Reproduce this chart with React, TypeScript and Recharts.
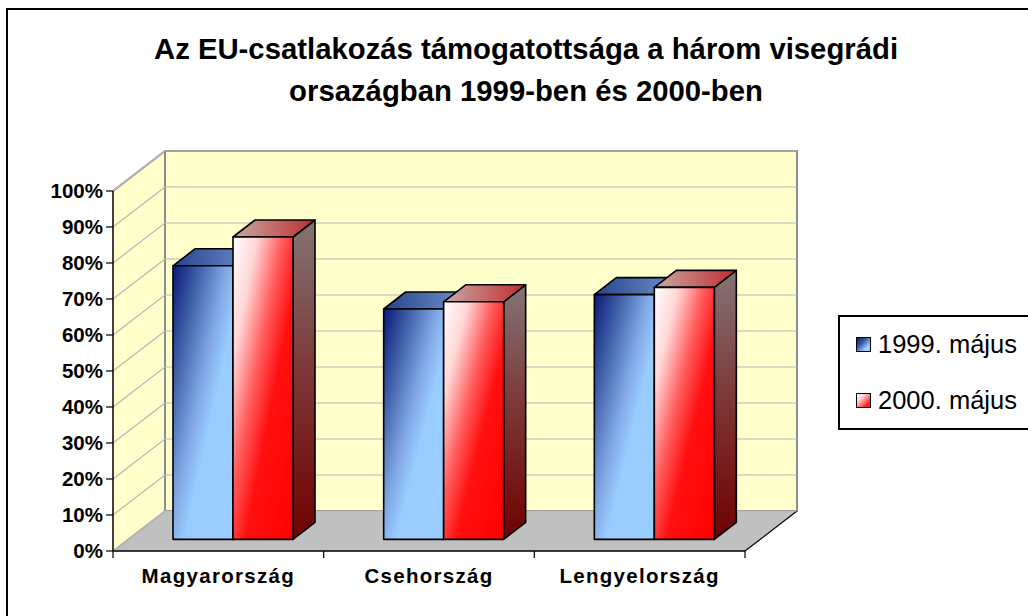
import React from 'react';
import { BarChart, Bar, XAxis, YAxis, CartesianGrid } from 'recharts';

const titleLines = ['Az EU-csatlakozás támogatottsága a három visegrádi', 'orsazágban 1999-ben és 2000-ben'];
const countries = ['Magyarország', 'Csehország', 'Lengyelország'];
const may1999 = [76, 64, 68];
const may2000 = [84, 66, 70];
const yTicks = [0, 10, 20, 30, 40, 50, 60, 70, 80, 90, 100];
const seriesNames = ['1999. május', '2000. május'];

const data = countries.map((c, i) => ({ name: c, may1999: may1999[i], may2000: may2000[i] }));

const FONT = '"Liberation Sans", Arial, sans-serif';

// layout of the front plane (plot area) and the 3D depth
const W = 1028;
const H = 616;
const LEFT = 113;
const RIGHT = 745;
const TOP = 191;
const BOTTOM = 551;
const DX = 52; // depth offset of the back wall
const DY = -40;
const BAR_OX = 15; // bars sit part way into the depth
const BAR_OY = -11.6;
const BAR_DX = 22; // bar thickness
const BAR_DY = -17;

const palette = {
  blue: { front: 'url(#blueFront)', top: 'url(#blueTop)', side: 'url(#blueSide)' },
  red: { front: 'url(#redFront)', top: 'url(#redTop)', side: 'url(#redSide)' },
};

const Bar3D = (props: any) => {
  const { x, y, width, height, kind } = props;
  if (width == null || height == null || height <= 0) return null;
  const c = palette[kind as 'blue' | 'red'];
  const fx = x + BAR_OX;
  const fy = y + BAR_OY;
  const top = `${fx},${fy} ${fx + width},${fy} ${fx + width + BAR_DX},${fy + BAR_DY} ${fx + BAR_DX},${fy + BAR_DY}`;
  const side = `${fx + width},${fy} ${fx + width + BAR_DX},${fy + BAR_DY} ${fx + width + BAR_DX},${fy + height + BAR_DY} ${fx + width},${fy + height}`;
  return (
    <g stroke="#000" strokeWidth={1.6} strokeLinejoin="round">
      <polygon points={side} fill={c.side} />
      <polygon points={top} fill={c.top} />
      <rect x={fx} y={fy} width={width} height={height} fill={c.front} />
    </g>
  );
};

const gridLine = (p: any) => {
  const { x1, y1, x2 } = p;
  return (
    <g key={`g-${y1}`}>
      <line x1={x1} y1={y1} x2={x1 + DX} y2={y1 + DY} stroke="#b8b8b8" strokeWidth={1.2} />
      <line x1={x1 + DX} y1={y1 + DY} x2={x2 + DX} y2={y1 + DY} stroke="#b8b8b8" strokeWidth={1.2} />
    </g>
  );
};

const XTick = (props: any) => {
  const { x, y, payload, index } = props;
  const off = payload && payload.offset ? payload.offset : (RIGHT - LEFT) / 6;
  return (
    <g>
      <line x1={x - off} y1={y} x2={x - off} y2={y + 7} stroke="#000" strokeWidth={1.2} />
      {index === countries.length - 1 && (
        <line x1={x + off} y1={y} x2={x + off} y2={y + 7} stroke="#000" strokeWidth={1.2} />
      )}
      <text x={x} y={y + 32} textAnchor="middle" fontFamily={FONT} fontWeight="bold" fontSize={20.5} letterSpacing={1.3} fill="#000">
        {payload.value}
      </text>
    </g>
  );
};

const Defs = () => (
  <defs>
    <linearGradient id="blueFront" x1="0" y1="0" x2="1" y2="1">
      <stop offset="0" stopColor="#0a1878" />
      <stop offset="0.22" stopColor="#3f5fa8" />
      <stop offset="0.45" stopColor="#80a8e4" />
      <stop offset="0.6" stopColor="#99ccff" />
      <stop offset="1" stopColor="#99ccff" />
    </linearGradient>
    <linearGradient id="blueTop" x1="0" y1="0" x2="1" y2="0">
      <stop offset="0" stopColor="#26448e" />
      <stop offset="1" stopColor="#7090c8" />
    </linearGradient>
    <linearGradient id="blueSide" x1="0" y1="0" x2="0" y2="1">
      <stop offset="0" stopColor="#4060a0" />
      <stop offset="1" stopColor="#1c2c70" />
    </linearGradient>
    <linearGradient id="redFront" x1="0" y1="0" x2="1" y2="1">
      <stop offset="0" stopColor="#ffffff" />
      <stop offset="0.2" stopColor="#ffd8d8" />
      <stop offset="0.42" stopColor="#ff5a5a" />
      <stop offset="0.6" stopColor="#ff1010" />
      <stop offset="1" stopColor="#ff0000" />
    </linearGradient>
    <linearGradient id="redTop" x1="0" y1="0" x2="1" y2="0">
      <stop offset="0" stopColor="#c8a8a8" />
      <stop offset="1" stopColor="#c02c2c" />
    </linearGradient>
    <linearGradient id="redSide" x1="0" y1="0" x2="0" y2="1">
      <stop offset="0" stopColor="#847474" />
      <stop offset="0.5" stopColor="#7c3434" />
      <stop offset="1" stopColor="#700000" />
    </linearGradient>
  </defs>
);

const Backdrop = () => (
  <svg width={W} height={H} style={{ position: 'absolute', left: 0, top: 0 }}>
    <rect x={7} y={9} width={1200} height={800} fill="#fff" stroke="#000" strokeWidth={2} />
    {titleLines.map((t, i) => (
      <text key={t} x={526} y={59 + i * 42} textAnchor="middle" fontFamily={FONT} fontWeight="bold" fontSize={29.3} fill="#000">
        {t}
      </text>
    ))}
    {/* left side wall */}
    <polygon points={`${LEFT},${TOP} ${LEFT + DX},${TOP + DY} ${LEFT + DX},${BOTTOM + DY} ${LEFT},${BOTTOM}`} fill="#ffffcc" />
    {/* back wall */}
    <rect x={LEFT + DX} y={TOP + DY} width={RIGHT - LEFT} height={BOTTOM - TOP} fill="#ffffcc" stroke="#8c8c8c" strokeWidth={2} />
    <line x1={LEFT} y1={TOP} x2={LEFT + DX} y2={TOP + DY} stroke="#8c8c8c" strokeWidth={2} />
    {/* floor */}
    <polygon points={`${LEFT},${BOTTOM} ${RIGHT},${BOTTOM} ${RIGHT + DX},${BOTTOM + DY} ${LEFT + DX},${BOTTOM + DY}`} fill="#c0c0c0" />
    <line x1={LEFT} y1={BOTTOM} x2={LEFT + DX} y2={BOTTOM + DY} stroke="#8c8c8c" strokeWidth={1.2} />
    <line x1={RIGHT} y1={BOTTOM} x2={RIGHT + DX} y2={BOTTOM + DY} stroke="#000" strokeWidth={1.2} />
  </svg>
);

const swatch = ['linear-gradient(135deg, #0a1878 0%, #3f5fa8 40%, #99ccff 75%)', 'linear-gradient(135deg, #ffffff 0%, #ffc8c8 35%, #ff2020 80%)'];

const LegendBox = () => (
  <div
    style={{
      position: 'absolute',
      left: 838,
      top: 315,
      width: 220,
      height: 115,
      border: '2px solid #000',
      background: '#fff',
      boxSizing: 'border-box',
      display: 'flex',
      flexDirection: 'column',
      justifyContent: 'space-around',
      fontFamily: FONT,
      fontSize: 25.5,
      color: '#000',
    }}
  >
    {seriesNames.map((n, i) => (
      <div key={n} style={{ display: 'flex', alignItems: 'center', paddingLeft: 16 }}>
        <span style={{ width: 15, height: 15, border: '1.5px solid #000', background: swatch[i], marginRight: 7, boxSizing: 'border-box' }} />
        <span>{n}</span>
      </div>
    ))}
  </div>
);

export default function App() {
  return (
    <div style={{ position: 'absolute', left: 0, top: 0, width: W, height: H, overflow: 'hidden', background: '#fff' }}>
      <Backdrop />
      <div style={{ position: 'absolute', left: 0, top: 0 }}>
        <BarChart
          width={W}
          height={H}
          data={data}
          margin={{ top: TOP, right: W - RIGHT, bottom: H - BOTTOM - 30, left: LEFT - 60 }}
          barGap={0}
          barSize={60}
        >
          <Defs />
          <CartesianGrid vertical={false} horizontal={gridLine} />
          <XAxis
            dataKey="name"
            height={30}
            tickLine={false}
            tickSize={0}
            tickMargin={0}
            axisLine={{ stroke: '#000', strokeWidth: 1.5 }}
            tick={<XTick />}
            interval={0}
          />
          <YAxis
            width={60}
            type="number"
            domain={[0, 100]}
            ticks={yTicks}
            interval={0}
            tickFormatter={(v: number) => `${v}%`}
            tickSize={7}
            tickMargin={3}
            axisLine={{ stroke: '#000', strokeWidth: 1.5 }}
            tickLine={{ stroke: '#000', strokeWidth: 1.2 }}
            tick={{ fontFamily: FONT, fontWeight: 'bold', fontSize: 20.5, fill: '#000' }}
          />
          <Bar dataKey="may1999" name={seriesNames[0]} shape={(p: any) => <Bar3D {...p} kind="blue" />} isAnimationActive={false} />
          <Bar dataKey="may2000" name={seriesNames[1]} shape={(p: any) => <Bar3D {...p} kind="red" />} isAnimationActive={false} />
        </BarChart>
      </div>
      <LegendBox />
    </div>
  );
}
